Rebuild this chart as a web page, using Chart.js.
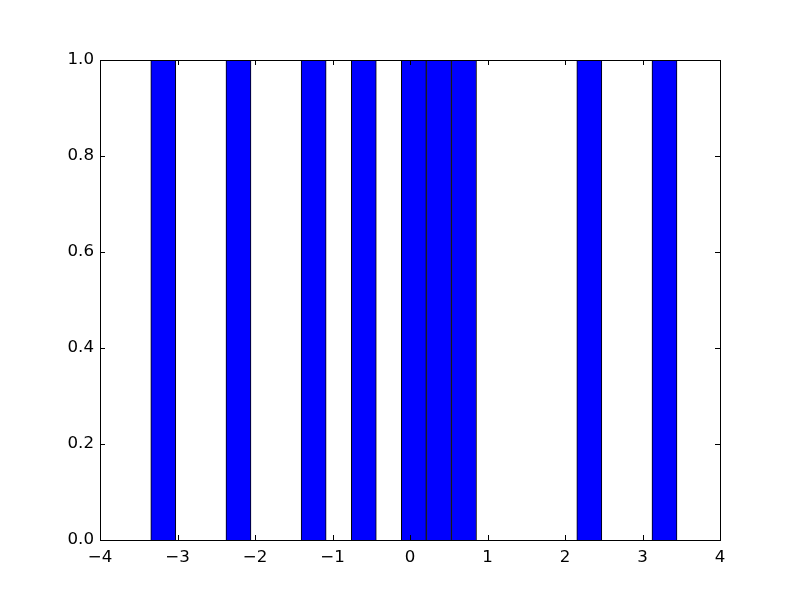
<!DOCTYPE html>
<html>
<head>
<meta charset="utf-8">
<script src="https://cdn.jsdelivr.net/npm/chart.js@4/dist/chart.umd.min.js"></script>
<style>
    html, body { margin: 0; padding: 0; background: #ffffff; }
    #wrap { width: 800px; height: 600px; }
</style>
</head>
<body>
<div id="wrap"><canvas id="histChart" width="800" height="600"></canvas></div>
<script>
// histogram bins that hold a value (left edge of each bin) and their counts
const binLeft = [-3.345, -2.375, -1.405, -0.758, -0.112, 0.212, 0.535, 2.152, 3.122];
const counts = [1, 1, 1, 1, 1, 1, 1, 1, 1];
const binWidth = 0.3233;

const xTicks = [-4, -3, -2, -1, 0, 1, 2, 3, 4];
const yTicks = [0.0, 0.2, 0.4, 0.6, 0.8, 1.0];

const barData = binLeft.map((left, i) => ({ x: left + binWidth / 2, y: counts[i] }));

// matplotlib classic look: box around the axes, ticks pointing inward on all four sides
const frameTicks = {
    id: "frameTicks",
    afterDraw(chart) {
        const ctx = chart.ctx;
        const area = chart.chartArea;
        const xScale = chart.scales.x;
        const yScale = chart.scales.y;
        const len = 5;

        ctx.save();
        ctx.strokeStyle = "#000000";
        ctx.lineWidth = 1;
        ctx.beginPath();
        xTicks.forEach((v) => {
            const px = Math.round(xScale.getPixelForValue(v)) + 0.5;
            ctx.moveTo(px, area.bottom);
            ctx.lineTo(px, area.bottom - len);
            ctx.moveTo(px, area.top);
            ctx.lineTo(px, area.top + len);
        });
        yTicks.forEach((v) => {
            const py = Math.round(yScale.getPixelForValue(v)) + 0.5;
            ctx.moveTo(area.left, py);
            ctx.lineTo(area.left + len, py);
            ctx.moveTo(area.right, py);
            ctx.lineTo(area.right - len, py);
        });
        ctx.stroke();

        ctx.strokeRect(area.left + 0.5, area.top + 0.5, area.right - area.left, area.bottom - area.top);
        ctx.restore();
    },
};

Chart.defaults.font.family = "'DejaVu Sans', sans-serif";
Chart.defaults.font.size = 16.67;
Chart.defaults.color = "#000000";

const ctx = document.getElementById("histChart").getContext("2d");
new Chart(ctx, {
    type: "bar",
    data: {
        datasets: [
            {
                data: barData,
                backgroundColor: "#0000ff",
                borderColor: "#000000",
                borderWidth: 1,
                barPercentage: 1.0,
                categoryPercentage: 1.0,
            },
        ],
    },
    options: {
        responsive: false,
        animation: false,
        layout: { padding: { top: 60, right: 80, left: 0, bottom: 0 } },
        plugins: {
            legend: { display: false },
            tooltip: { enabled: false },
        },
        scales: {
            x: {
                type: "linear",
                min: -4,
                max: 4,
                offset: false,
                grid: { display: false, drawTicks: false },
                border: { display: false },
                afterBuildTicks: (scale) => {
                    scale.ticks = xTicks.map((v) => ({ value: v }));
                },
                afterFit: (scale) => {
                    scale.height = 60;
                },
                ticks: {
                    padding: 8,
                    maxRotation: 0,
                    autoSkip: false,
                    callback: (value) => String(value).replace("-", "\u2212"),
                },
            },
            y: {
                min: 0,
                max: 1,
                grid: { display: false, drawTicks: false },
                border: { display: false },
                afterBuildTicks: (scale) => {
                    scale.ticks = yTicks.map((v) => ({ value: v }));
                },
                afterFit: (scale) => {
                    scale.width = 100;
                },
                ticks: {
                    padding: 6,
                    callback: (value) => Number(value).toFixed(1),
                },
            },
        },
    },
    plugins: [frameTicks],
});
</script>
</body>
</html>
